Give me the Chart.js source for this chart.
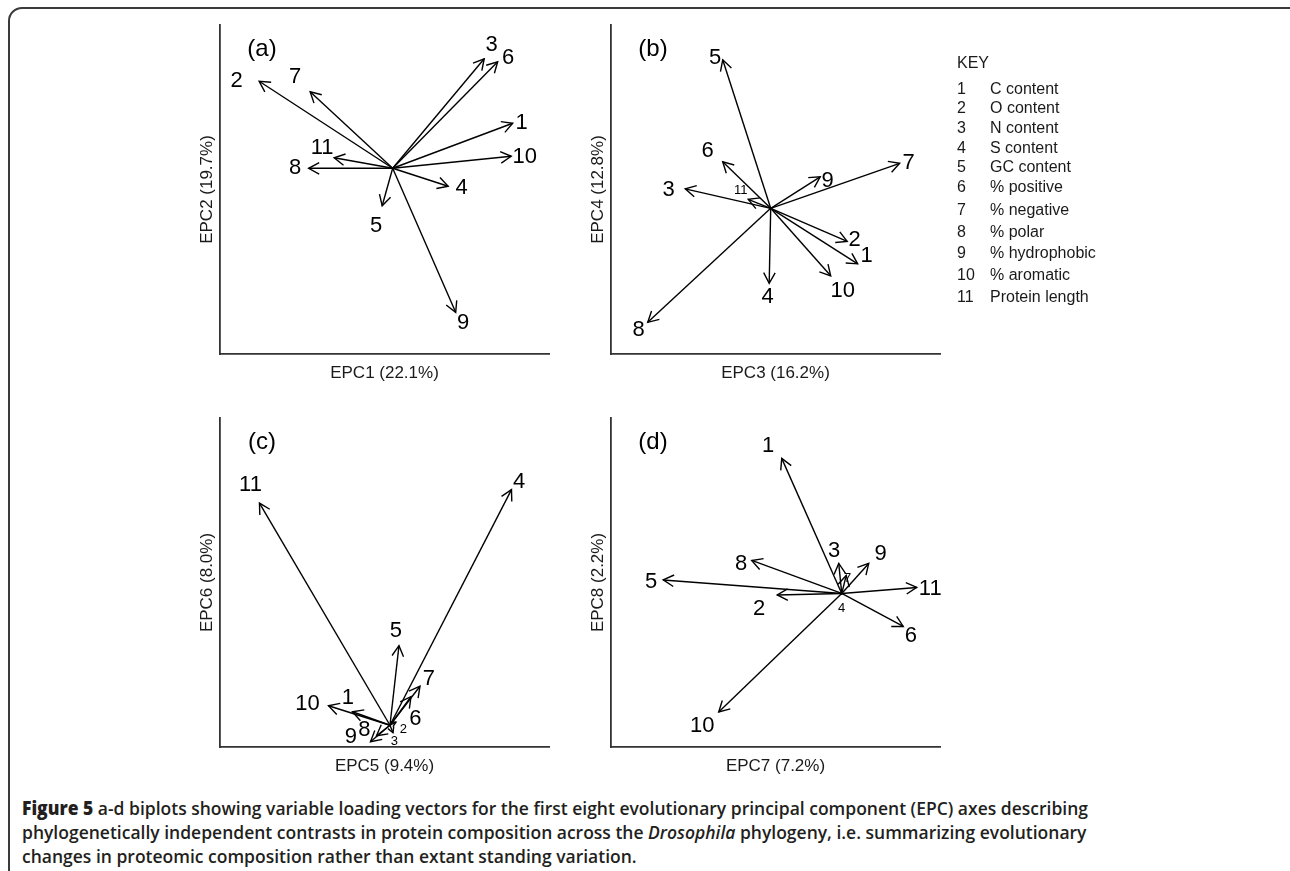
<!DOCTYPE html>
<html>
<head>
<meta charset="utf-8">
<script src="https://cdn.jsdelivr.net/npm/chart.js@4.4.0/dist/chart.umd.min.js"></script>
<style>
body { margin:0; width:1290px; height:871px; background:#fff; overflow:hidden; position:relative; font-family:"Liberation Sans", Arial, sans-serif; }
#frame { position:absolute; left:8px; top:7px; width:1300px; height:900px; border:2px solid #3a3a3a; border-radius:14px; box-sizing:border-box; }
canvas.panel { position:absolute; }
#key { position:absolute; left:957px; top:0; font-size:16px; color:#1a1a1a; }
#key div { position:absolute; white-space:nowrap; line-height:20px; }
#caption { position:absolute; left:22px; top:796px; font-family:"Open Sans", sans-serif; font-weight:600; font-size:18.5px; line-height:24px; color:#231f20; white-space:nowrap; transform-origin:0 0; }
#caption b { font-weight:800; }
</style>
</head>
<body>
<div id="frame"></div>
<canvas id="p0" class="panel"></canvas>
<canvas id="p1" class="panel"></canvas>
<canvas id="p2" class="panel"></canvas>
<canvas id="p3" class="panel"></canvas>
<div id="key"></div>
<div id="caption"><span id="cap1"><b>Figure 5</b> a-d biplots showing variable loading vectors for the first eight evolutionary principal component (EPC) axes describing</span><br>phylogenetically independent contrasts in protein composition across the <i>Drosophila</i> phylogeny, i.e. summarizing evolutionary<br>changes in proteomic composition rather than extant standing variation.</div>
<script>
// variables (numbered as in the key)
const varNums = ['1','2','3','4','5','6','7','8','9','10','11'];
const varNames = ['C content','O content','N content','S content','GC content','% positive','% negative','% polar','% hydrophobic','% aromatic','Protein length'];

// loading vector tips
const epc1 = [0.80, -0.89, 0.61, 0.37, -0.07, 0.70, -0.55, -0.56, 0.42, 0.79, -0.39];
const epc2 = [0.30, 0.58, 0.73, -0.12, -0.25, 0.71, 0.51, 0.00, -0.96, 0.08, 0.07];
const epc3 = [0.58, 0.51, -0.57, -0.01, -0.32, -0.32, 0.86, -0.82, 0.33, 0.40, -0.15];
const epc4 = [-0.37, -0.22, 0.13, -0.50, 0.99, 0.31, 0.30, -0.76, 0.21, -0.45, 0.06];
const epc5 = [-0.25, 0.04, 0.02, 0.81, 0.06, 0.14, 0.20, -0.09, -0.13, -0.41, -0.87];
const epc6 = [0.09, 0.02, -0.05, 1.57, 0.53, 0.19, 0.26, -0.07, -0.11, 0.13, 1.48];
const epc7 = [-0.40, -0.43, -0.02, 0.00, -1.19, 0.41, 0.03, -0.60, 0.18, -0.82, 0.50];
const epc8 = [0.90, -0.01, 0.20, -0.01, 0.09, -0.22, 0.12, 0.22, 0.20, -0.79, 0.04];

// where the number labels sit (same units)
const labA_x = [0.86, -1.04, 0.66, 0.46, -0.11, 0.77, -0.65, -0.65, 0.47, 0.88, -0.47];
const labA_y = [0.30, 0.58, 0.82, -0.13, -0.385, 0.735, 0.61, 0.00, -1.03, 0.077, 0.135];
const labB_x = [0.64, 0.56, -0.68, -0.02, -0.37, -0.42, 0.92, -0.88, 0.38, 0.48, -0.20];
const labB_y = [-0.32, -0.21, 0.12, -0.59, 1.00, 0.38, 0.30, -0.81, 0.18, -0.55, 0.12];
const labC_x = [-0.28, 0.09, 0.03, 0.86, 0.04, 0.17, 0.26, -0.17, -0.26, -0.55, -0.93];
const labC_y = [0.18, -0.03, -0.105, 1.62, 0.63, 0.04, 0.31, -0.03, -0.08, 0.145, 1.60];
const labD_x = [-0.49, -0.55, -0.05, 0.00, -1.27, 0.46, 0.04, -0.67, 0.26, -0.93, 0.59];
const labD_y = [0.98, -0.10, 0.28, -0.10, 0.08, -0.28, 0.10, 0.20, 0.26, -0.88, 0.03];

const axisTitles = ['EPC1 (22.1%)','EPC2 (19.7%)','EPC3 (16.2%)','EPC4 (12.8%)','EPC5 (9.4%)','EPC6 (8.0%)','EPC7 (7.2%)','EPC8 (2.2%)'];
const panelTags = ['(a)','(b)','(c)','(d)'];
const xRanges = [[-1.151, 1.042], [-1.065, 1.129], [-1.133, 1.06], [-1.538, 0.655]];
const yRanges = [[-1.238, 0.955], [-0.971, 1.222], [-0.145, 2.047], [-1.023, 1.169]];

// layout
const FONT = '"Liberation Sans", Arial, sans-serif';
const boxes = [{left:220, top:25}, {left:611, top:25}, {left:220, top:418}, {left:611, top:418}];
const AREA = 329, SCALE_W = 40, PAD = {left:10, top:10, right:26, bottom:6};
const smallLabels = [[], [11], [2, 3], [4, 7]];

function arrowPlugin(lx, ly, small, tag) {
    return {
        id: 'arrowsAndLabels',
        afterDatasetsDraw(chart) {
            const ctx = chart.ctx;
            ctx.save();
            ctx.strokeStyle = '#000';
            ctx.lineWidth = 1.4;
            chart.data.datasets.forEach((ds, k) => {
                const pts = chart.getDatasetMeta(k).data;
                const a = pts[0], b = pts[1];
                const len = Math.hypot(b.x - a.x, b.y - a.y);
                if (len < 3) return;
                const ang = Math.atan2(b.y - a.y, b.x - a.x);
                const h = Math.min(12, len * 0.8);
                ctx.beginPath();
                ctx.moveTo(b.x - h * Math.cos(ang - 0.5), b.y - h * Math.sin(ang - 0.5));
                ctx.lineTo(b.x, b.y);
                ctx.lineTo(b.x - h * Math.cos(ang + 0.5), b.y - h * Math.sin(ang + 0.5));
                ctx.stroke();
            });
            // number labels
            ctx.fillStyle = '#000';
            ctx.textAlign = 'center';
            ctx.textBaseline = 'middle';
            const xs = chart.scales.x, ys = chart.scales.y;
            lx.forEach((v, k) => {
                ctx.font = (small.includes(k + 1) ? 13 : 22) + 'px ' + FONT;
                ctx.fillText(varNums[k], xs.getPixelForValue(v), ys.getPixelForValue(ly[k]));
            });
            ctx.font = '24px ' + FONT;
            ctx.fillText(tag, chart.chartArea.left + 42, chart.chartArea.top + 24);
            ctx.restore();
        }
    };
}

function makePanel(i, xv, yv, lx, ly) {
    const cv = document.getElementById('p' + i);
    const w = AREA + SCALE_W + PAD.left + PAD.right;
    const h = AREA + SCALE_W + PAD.top + PAD.bottom;
    cv.width = w; cv.height = h;
    cv.style.width = w + 'px'; cv.style.height = h + 'px';
    cv.style.left = (boxes[i].left - SCALE_W - PAD.left) + 'px';
    cv.style.top = (boxes[i].top - PAD.top) + 'px';

    const datasets = varNums.map((n, k) => ({
        label: n,
        data: [{x: 0, y: 0}, {x: xv[k], y: yv[k]}],
        showLine: true,
        borderColor: '#000',
        borderWidth: 1.4,
        pointRadius: 0,
        clip: false
    }));

    new Chart(cv, {
        type: 'scatter',
        data: {datasets},
        options: {
            responsive: false,
            animation: false,
            layout: {padding: PAD},
            plugins: {legend: {display: false}, tooltip: {enabled: false}},
            scales: {
                x: {
                    type: 'linear', min: xRanges[i][0], max: xRanges[i][1],
                    grid: {display: false, drawTicks: false},
                    ticks: {display: false},
                    border: {display: true, color: '#333', width: 1.8},
                    title: {display: true, text: axisTitles[2 * i], color: '#1a1a1a',
                            font: {family: FONT, size: 17}, padding: {top: 0, bottom: 10.8}},
                    afterFit(s) { s.height = SCALE_W; }
                },
                y: {
                    type: 'linear', min: yRanges[i][0], max: yRanges[i][1],
                    grid: {display: false, drawTicks: false},
                    ticks: {display: false},
                    border: {display: true, color: '#333', width: 1.8},
                    title: {display: true, text: axisTitles[2 * i + 1], color: '#1a1a1a',
                            font: {family: FONT, size: 17}, padding: {top: 16.8, bottom: 0}},
                    afterFit(s) { s.width = SCALE_W; }
                }
            }
        },
        plugins: [arrowPlugin(lx, ly, smallLabels[i], panelTags[i])]
    });
}

makePanel(0, epc1, epc2, labA_x, labA_y);
makePanel(1, epc3, epc4, labB_x, labB_y);
makePanel(2, epc5, epc6, labC_x, labC_y);
makePanel(3, epc7, epc8, labD_x, labD_y);

// key
const key = document.getElementById('key');
const head = document.createElement('div');
head.textContent = 'KEY';
head.style.top = (62.7 - 9.7) + 'px';
key.appendChild(head);
varNums.forEach((n, k) => {
    const c = k < 6 ? 88.3 + 19.7 * k : 209.3 + 21.9 * (k - 6);
    const num = document.createElement('div');
    num.textContent = n;
    num.style.top = (c - 9.7) + 'px';
    key.appendChild(num);
    const nm = document.createElement('div');
    nm.textContent = varNames[k];
    nm.style.top = (c - 9.7) + 'px';
    nm.style.left = '33px';
    key.appendChild(nm);
});

// squeeze caption to the width of the original lines
const cap = document.getElementById('caption');
const w1 = document.getElementById('cap1').getBoundingClientRect().width;
cap.style.transform = 'scaleX(' + (1066 / w1) + ')';
</script>
</body>
</html>
